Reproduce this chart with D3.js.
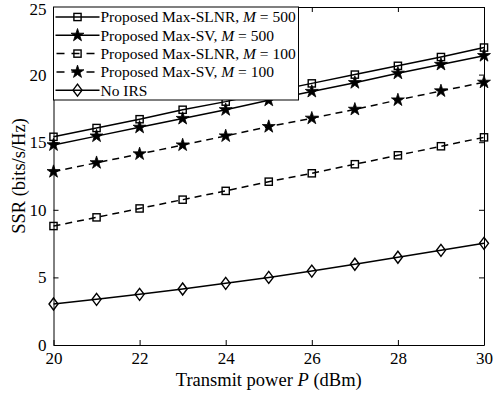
<!DOCTYPE html>
<html>
<head>
<meta charset="utf-8">
<script src="https://cdn.jsdelivr.net/npm/d3@7"></script>
<style>
  body { margin: 0; background: #fff; }
  text { font-family: "Liberation Serif", "DejaVu Serif", serif; fill: #000; }
</style>
</head>
<body>
<div id="chart"></div>
<script>
// data
var power = [20, 21, 22, 23, 24, 25, 26, 27, 28, 29, 30];
var slnr500 = [15.4, 16.05, 16.7, 17.4, 18.0, 18.7, 19.35, 20.0, 20.65, 21.3, 22.0];
var sv500 = [14.8, 15.45, 16.1, 16.75, 17.4, 18.1, 18.75, 19.4, 20.1, 20.75, 21.4];
var slnr100 = [8.8, 9.44, 10.1, 10.75, 11.4, 12.08, 12.7, 13.37, 14.03, 14.7, 15.36];
var sv100 = [12.82, 13.48, 14.13, 14.79, 15.46, 16.15, 16.77, 17.43, 18.12, 18.79, 19.43];
var noIrs = [3.03, 3.38, 3.75, 4.14, 4.56, 5.0, 5.47, 5.97, 6.49, 7.0, 7.52];
var xTicks = [20, 22, 24, 26, 28, 30];
var yTicks = [0, 5, 10, 15, 20, 25];

var series = [
  { name: "Proposed Max-SLNR, ", m: "500", vals: slnr500, marker: "square", dash: null },
  { name: "Proposed Max-SV, ", m: "500", vals: sv500, marker: "star", dash: null },
  { name: "Proposed Max-SLNR, ", m: "100", vals: slnr100, marker: "square", dash: "7,5" },
  { name: "Proposed Max-SV, ", m: "100", vals: sv100, marker: "star", dash: "7,5" },
  { name: "No IRS", m: null, vals: noIrs, marker: "diamond", dash: null }
];

var W = 496, H = 394;
var margin = { left: 53.5, right: 12, top: 7, bottom: 49 };
var iw = W - margin.left - margin.right, ih = H - margin.top - margin.bottom;

var svg = d3.select("#chart").append("svg")
  .attr("width", W).attr("height", H);
var g = svg.append("g").attr("transform", "translate(" + margin.left + "," + margin.top + ")");

var x = d3.scaleLinear().domain([20, 30]).range([0, iw]);
var y = d3.scaleLinear().domain([0, 25]).range([ih, 0]);

// axes with inward ticks on all four sides
g.append("g").attr("transform", "translate(0," + ih + ")")
  .call(d3.axisBottom(x).tickValues(xTicks).tickSizeInner(-5).tickSizeOuter(0).tickPadding(9))
  .call(function(a){ a.selectAll("text").attr("font-size", 17).attr("dy", "0.6em"); });
g.append("g")
  .call(d3.axisTop(x).tickValues(xTicks).tickSizeInner(-5).tickSizeOuter(0).tickFormat(""));
g.append("g")
  .call(d3.axisLeft(y).tickValues(yTicks).tickSizeInner(-5).tickSizeOuter(0).tickPadding(7))
  .call(function(a){
    a.selectAll("text").attr("font-size", 17)
      .attr("dy", function(d){ return d === 25 ? "0.42em" : "0.32em"; });
  });
g.append("g").attr("transform", "translate(" + iw + ",0)")
  .call(d3.axisRight(y).tickValues(yTicks).tickSizeInner(-5).tickSizeOuter(0).tickFormat(""));
g.selectAll(".domain").attr("stroke", "#000").attr("stroke-width", 1);
g.selectAll(".tick line").attr("stroke", "#000").attr("stroke-width", 1);
g.selectAll(".tick text").attr("font-family", "Liberation Serif").attr("fill", "#000");

var starPath = d3.symbol().type(d3.symbolStar).size(52);
function drawMarker(sel, type) {
  if (type === "square") {
    sel.append("rect").attr("x", -3.6).attr("y", -3.6).attr("width", 7.2).attr("height", 7.2)
      .attr("fill", "none").attr("stroke", "#000").attr("stroke-width", 1.4);
  } else if (type === "star") {
    sel.append("path").attr("d", starPath).attr("fill", "#000").attr("stroke", "#000").attr("stroke-width", 0.8);
  } else {
    sel.append("path").attr("d", "M0,-6L4.5,0L0,6L-4.5,0Z")
      .attr("fill", "none").attr("stroke", "#000").attr("stroke-width", 1.4);
  }
}

var line = d3.line().x(function(d){ return x(d[0]); }).y(function(d){ return y(d[1]); });

series.forEach(function(s) {
  var pts = power.map(function(p, i){ return [p, s.vals[i]]; });
  g.append("path").datum(pts).attr("d", line)
    .attr("fill", "none").attr("stroke", "#000").attr("stroke-width", 1.5)
    .attr("stroke-dasharray", s.dash);
  g.selectAll(null).data(pts).enter().append("g")
    .attr("transform", function(d){ return "translate(" + x(d[0]) + "," + y(d[1]) + ")"; })
    .each(function(){ drawMarker(d3.select(this), s.marker); });
});

// legend
var lg = g.append("g");
lg.append("rect").attr("x", 0).attr("y", 0).attr("width", 245).attr("height", 93)
  .attr("fill", "#fff").attr("stroke", "#000").attr("stroke-width", 1);
var rows = lg.selectAll(".legend").data(series).enter().append("g")
  .attr("class", "legend")
  .attr("transform", function(d, i){ return "translate(0," + (10 + i * 18.3) + ")"; });
rows.append("line").attr("x1", 2).attr("x2", 46).attr("y1", 0).attr("y2", 0)
  .attr("stroke", "#000").attr("stroke-width", 1.5)
  .attr("stroke-dasharray", function(d){ return d.dash ? "8,7" : null; })
  .attr("stroke-dashoffset", function(d){ return d.dash ? -1 : null; });
rows.each(function(d){
  var m = d3.select(this).append("g").attr("transform", "translate(24,0)");
  drawMarker(m, d.marker);
});
var lt = rows.append("text").attr("x", 47).attr("y", 0).attr("dy", "0.35em").attr("font-size", 15.5);
lt.append("tspan").text(function(d){ return d.name; });
lt.filter(function(d){ return d.m; }).append("tspan").attr("font-style", "italic").text("M");
lt.filter(function(d){ return d.m; }).append("tspan").text(function(d){ return " = " + d.m; });

// axis titles
var xl = svg.append("text").attr("x", margin.left + iw / 2).attr("y", 386)
  .attr("text-anchor", "middle").attr("font-size", 18.5);
xl.append("tspan").text("Transmit power ");
xl.append("tspan").attr("font-style", "italic").text("P");
xl.append("tspan").text(" (dBm)");

svg.append("text").attr("transform", "translate(25," + (margin.top + ih / 2) + ") rotate(-90)")
  .attr("text-anchor", "middle").attr("font-size", 18.5)
  .text("SSR (bits/s/Hz)");
</script>
</body>
</html>
